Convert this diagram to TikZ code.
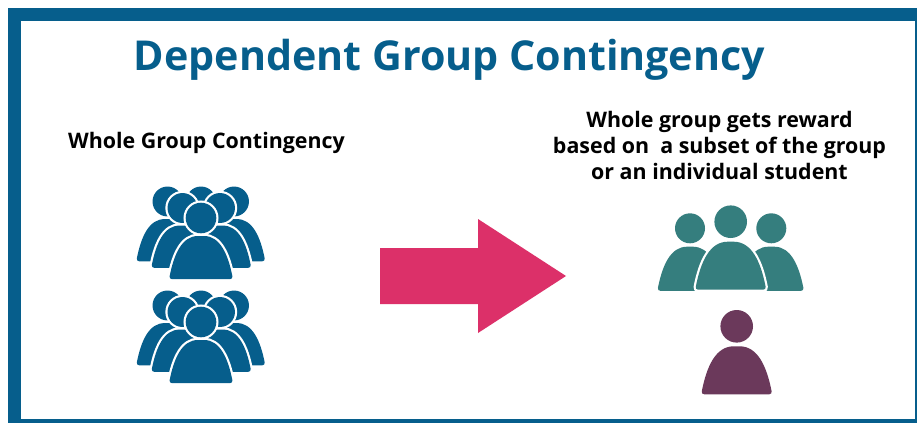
\documentclass[tikz,border=0pt]{standalone}
\usepackage{xcolor}
\usepackage{fontspec}
\setmainfont{Open Sans}
\usepackage{tikz}
\usetikzlibrary{positioning}

\definecolor{frameblue}{HTML}{065E8C}
\definecolor{arrowpink}{HTML}{DC3069}
\definecolor{groupteal}{HTML}{357E7E}
\definecolor{singleplum}{HTML}{6B395B}

\tikzset{
  titletext/.style={font=\fontsize{41.2}{44}\selectfont\bfseries, text=frameblue, anchor=base},
  labeltext/.style={font=\fontsize{21.4}{26}\selectfont\bfseries, text=black, align=center, anchor=base},
  halo/.style={preaction={draw=white, line width=4.4pt}},
  headsize/.store in=\headsize, headsize=16.3,
  person/.pic={
    \fill[halo] (0,0) circle (\headsize);
    \fill[halo, rounded corners=3] (0,68) -- (35.5,68) .. controls (30,40) and (21,20) .. (0,20)
      .. controls (-21,20) and (-30,40) .. (-35.5,68) -- cycle;
  }
}

\begin{document}
\begin{tikzpicture}[x=1pt,y=-1pt]
\useasboundingbox (0,0) rectangle (917,423);
% frame
\fill[frameblue] (8,8) rectangle (917,423);
\fill[white] (20.5,20.5) rectangle (915,418.5);
% texts
\node[titletext] (title) at (449.5,70) {Dependent Group Contingency};
\node[labeltext] (leftlabel) at (206.5,148) {Whole Group Contingency};
\node[labeltext] (rightlabel) at (719.5,179) {Whole group gets reward\\based on\ \ a subset of the group\\or an individual student};
% two crowds on the left
\foreach \dy in {0,104} {
  \foreach \hx in {201,167.5,234}
    \pic[color=frameblue,scale=.88,headsize=17] at (\hx,201.5+\dy) {person};
  \foreach \hx in {182.5,220}
    \pic[color=frameblue,scale=.88,headsize=17] at (\hx,208+\dy) {person};
  \pic[color=frameblue,scale=.9,headsize=17] at (201,218+\dy) {person};
}
% arrow
\fill[arrowpink] (380,248) -- (478,248) -- (478,219) -- (566,276) -- (478,333) -- (478,304) -- (380,304) -- cycle;
% three students
\pic[color=groupteal,scale=.92] at (690,228.3) {person};
\pic[color=groupteal,scale=.92] at (771.3,228.3) {person};
\pic[color=groupteal] at (730.7,221.7) {person};
% one student
\pic[color=singleplum] at (736.7,326.3) {person};
\end{tikzpicture}
\end{document}
